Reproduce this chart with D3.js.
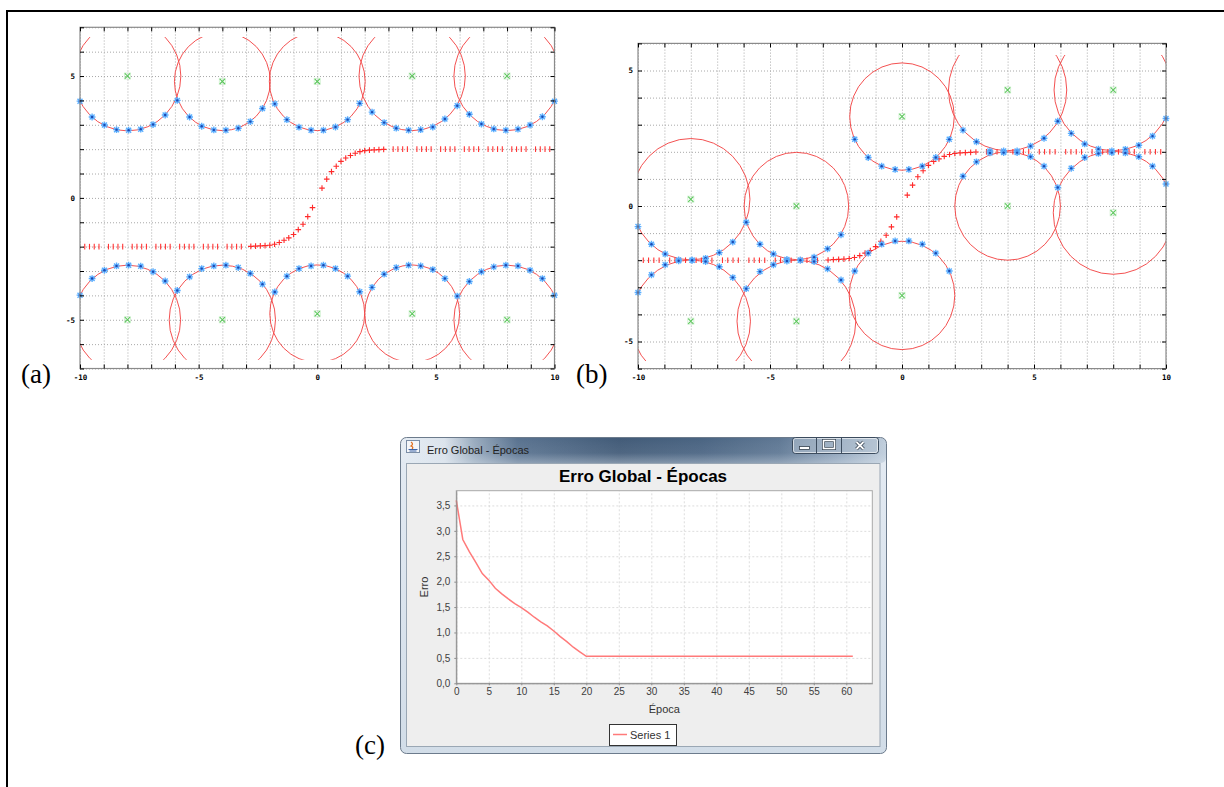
<!DOCTYPE html>
<html>
<head>
<meta charset="utf-8">
<title>RBF - Erro Global</title>
<script src="https://cdnjs.cloudflare.com/ajax/libs/d3/7.8.5/d3.min.js"></script>
<style>
  body { margin: 0; background: #ffffff; }
  #figure svg { display: block; }
</style>
</head>
<body>
<div id="figure"></div>
<script>
// ---------------- data ----------------

// x positions of the blue samples, shared by (a) and (b)
var blueX = [-10, -9.49, -8.97, -8.46, -7.95, -7.44, -6.92, -6.41, -5.9, -5.38,
             -4.87, -4.36, -3.85, -3.33, -2.82, -2.31, -1.79, -1.28, -0.77, -0.26,
             0.26, 0.77, 1.28, 1.79, 2.31, 2.82, 3.33, 3.85, 4.36, 4.87,
             5.38, 5.9, 6.41, 6.92, 7.44, 7.95, 8.46, 8.97, 9.49, 10];

// (a) blue samples, upper and lower band
var aBlueTop = [3.97, 3.32, 2.99, 2.80, 2.78, 2.82, 3.01, 3.40, 4.0, 3.32,
                2.94, 2.79, 2.78, 2.86, 3.13, 3.67, 3.86, 3.21, 2.90, 2.78,
                2.78, 2.91, 3.21, 3.88, 3.52, 3.09, 2.86, 2.78, 2.80, 2.91,
                3.24, 3.78, 3.43, 3.03, 2.83, 2.78, 2.82, 2.99, 3.33, 3.97];
var aBlueBottom = [-3.99, -3.31, -2.97, -2.79, -2.76, -2.80, -3.03, -3.41, -3.80, -3.24,
                   -2.90, -2.79, -2.76, -2.86, -3.10, -3.54, -3.86, -3.21, -2.90, -2.79,
                   -2.76, -2.90, -3.21, -3.85, -3.67, -3.13, -2.86, -2.76, -2.79, -2.94,
                   -3.31, -4.03, -3.43, -3.03, -2.83, -2.76, -2.79, -2.97, -3.31, -3.99];
// (a) centres (green x) and radii of the red circles
var aCenterX = [-8, -4, 0, 4, 8, -8, -4, 0, 4, 8];
var aCenterY = [5, 4.78, 4.78, 5, 5, -5, -5, -4.75, -4.75, -5];
var aRadius  = [2.25, 2.02, 2.02, 2.24, 2.24, 2.24, 2.24, 2.0, 2.0, 2.24];

// (b) blue samples
var bBlueUpper = [-0.76, -1.41, -1.77, -1.99, -2.0, -1.93, -1.72, -1.33, -0.6, -1.41,
                  -1.77, -1.97, -2.0, -1.89, -1.58, -1.06, 2.46, 1.79, 1.47, 1.35,
                  1.35, 1.47, 1.79, 2.46, 2.8, 2.37, 2.03, 2.03, 2.03, 2.21,
                  2.5, 3.13, 2.68, 2.29, 2.1, 2.03, 2.09, 2.24, 2.58, 3.23];
var bBlueLower = [-3.19, -2.54, -2.17, -2.02, -2.0, -2.05, -2.24, -2.64, -3.05, -2.42,
                  -2.17, -2.03, -2.0, -2.05, -2.32, -2.73, -2.4, -1.74, -1.41, -1.29,
                  -1.29, -1.41, -1.74, -2.4, 1.1, 1.63, 1.96, 1.97, 1.97, 1.82,
                  1.47, 0.68, 1.39, 1.79, 1.94, 1.97, 1.96, 1.82, 1.47, 0.81];
var bCenterX = [-8, -8, -4, -4, 0, 0, 4, 4, 8, 8];
var bCenterY = [0.25, -4.25, 0, -4.25, 3.3, -3.3, 4.28, 0, 4.28, -0.25];
var bRadius  = [2.24, 2.26, 1.98, 2.25, 1.98, 2.0, 2.24, 2.0, 2.24, 2.27];

// red "+" output, steep part (same in (a) and (b), nothing plotted at x = 0)
var sigX = [-2.8, -2.6, -2.4, -2.2, -2, -1.8, -1.6, -1.4, -1.2, -1, -0.8, -0.6, -0.4, -0.2,
            0.2, 0.4, 0.6, 0.8, 1, 1.2, 1.4, 1.6, 1.8, 2, 2.2, 2.4, 2.6, 2.8];
var sigY = [-1.99, -1.98, -1.97, -1.96, -1.94, -1.9, -1.83, -1.74, -1.64, -1.5, -1.3, -1.08, -0.77, -0.4,
            0.4, 0.77, 1.08, 1.3, 1.5, 1.64, 1.74, 1.83, 1.9, 1.94, 1.96, 1.97, 1.98, 1.99];
// red output, flat parts
var flatLeftX = [-9.8, -9.6, -9.4, -9.2, -8.8, -8.6, -8.4, -8.2, -7.8, -7.6, -7.4, -7.2, -6.8, -6.6,
                 -6.4, -6.2, -5.8, -5.6, -5.4, -5.2, -4.8, -4.6, -4.4, -4.2, -3.8, -3.6, -3.4, -3.2];
var flatRightX = [3.2, 3.4, 3.6, 3.8, 4.2, 4.4, 4.6, 4.8, 5.2, 5.4, 5.6, 5.8, 6.2, 6.4,
                  6.6, 6.8, 7.2, 7.4, 7.6, 7.8, 8.2, 8.4, 8.6, 8.8, 9.2, 9.4, 9.6, 9.8];
var flatLevels = [-2, 2];

var xTickLabels = [-10, -5, 0, 5, 10];
var yTickLabels = [-5, 0, 5];

// (c) Erro Global - Epocas
var epocas = [0, 1, 2, 3, 4, 5, 6, 7, 8, 9, 10, 11, 12, 13, 14, 15, 16, 17, 18, 19, 20,
              21, 22, 23, 24, 25, 26, 27, 28, 29, 30, 31, 32, 33, 34, 35, 36, 37, 38, 39, 40,
              41, 42, 43, 44, 45, 46, 47, 48, 49, 50, 51, 52, 53, 54, 55, 56, 57, 58, 59, 60, 61];
var erro = [3.60, 2.83, 2.59, 2.38, 2.16, 2.03, 1.87, 1.76, 1.66, 1.57, 1.49, 1.40, 1.30, 1.21,
            1.13, 1.03, 0.92, 0.82, 0.71, 0.62, 0.53,
            0.53, 0.53, 0.53, 0.53, 0.53, 0.53, 0.53, 0.53, 0.53, 0.53, 0.53, 0.53, 0.53, 0.53,
            0.53, 0.53, 0.53, 0.53, 0.53, 0.53, 0.53, 0.53, 0.53, 0.53, 0.53, 0.53, 0.53, 0.53,
            0.53, 0.53, 0.53, 0.53, 0.53, 0.53, 0.53, 0.53, 0.53, 0.53, 0.53, 0.53, 0.53];

// ---------------- drawing ----------------

var svg = d3.select("#figure").append("svg")
    .attr("width", 1224)
    .attr("height", 787);
var defs = svg.append("defs");

// page frame (only top and left edge are inside the picture)
svg.append("path")
    .attr("d", "M7,787 V11 H1224")
    .attr("fill", "none")
    .attr("stroke", "#000")
    .attr("stroke-width", 2);

function plusPath(px, py, s) {
    return "M" + (px - s) + "," + py + "H" + (px + s) + "M" + px + "," + (py - s) + "V" + (py + s);
}
function crossPath(px, py, s) {
    return "M" + (px - s) + "," + (py - s) + "L" + (px + s) + "," + (py + s) +
           "M" + (px - s) + "," + (py + s) + "L" + (px + s) + "," + (py - s);
}

/**
 * Draws one gnuplot style panel: dotted grid, red circles round the centres,
 * red network output, blue samples and green centres.
 */
function drawPanel(cfg) {
    var x = d3.scaleLinear().domain([-10, 10]).range([cfg.left, cfg.right]);
    var y = d3.scaleLinear().domain(cfg.yDomain).range([cfg.bottom, cfg.top]);
    var w = cfg.right - cfg.left,
        h = cfg.bottom - cfg.top;
    var g = svg.append("g").attr("class", "panel-" + cfg.name);

    g.append("rect")
        .attr("x", cfg.left).attr("y", cfg.top)
        .attr("width", w).attr("height", h)
        .attr("fill", "#fff");

    // dotted grid at every unit
    var gx = g.append("g")
        .attr("transform", "translate(0," + cfg.bottom + ")")
        .call(d3.axisBottom(x).ticks(20).tickSize(-h).tickFormat(""));
    var gy = g.append("g")
        .attr("transform", "translate(" + cfg.left + ",0)")
        .call(d3.axisLeft(y).ticks(cfg.yDomain[1] * 2).tickSize(-w).tickFormat(""));
    [gx, gy].forEach(function (s) {
        s.select(".domain").remove();
        s.selectAll("line")
            .attr("stroke", "#a8a8a8")
            .attr("stroke-width", 1)
            .attr("stroke-dasharray", "1,2");
    });

    // circles, clipped like in the original
    var clipId = "clip-" + cfg.name;
    defs.append("clipPath").attr("id", clipId).append("rect")
        .attr("x", x(-10)).attr("width", x(10) - x(-10))
        .attr("y", y(cfg.clipY[1])).attr("height", y(cfg.clipY[0]) - y(cfg.clipY[1]));
    g.append("g")
        .attr("clip-path", "url(#" + clipId + ")")
        .selectAll("ellipse")
        .data(d3.range(cfg.cx.length))
        .join("ellipse")
        .attr("cx", i => x(cfg.cx[i]))
        .attr("cy", i => y(cfg.cy[i]))
        .attr("rx", i => x(cfg.r[i]) - x(0))
        .attr("ry", i => y(0) - y(cfg.r[i]))
        .attr("fill", "none")
        .attr("stroke", "#f24848")
        .attr("stroke-width", 0.95);

    // flat output: red ticks with a faint bar
    var flat = flatLeftX.map(v => [v, flatLevels[0]]).concat(flatRightX.map(v => [v, flatLevels[1]]));
    g.append("g").selectAll("path.flatbar")
        .data(flat)
        .join("path")
        .attr("class", "flatbar")
        .attr("d", d => "M" + (x(d[0]) - 2.2) + "," + y(d[1]) + "H" + (x(d[0]) + 2.2))
        .attr("stroke", "#ff7070")
        .attr("stroke-opacity", 0.22)
        .attr("stroke-width", 1);
    g.append("g").selectAll("path.flat")
        .data(flat)
        .join("path")
        .attr("class", "flat")
        .attr("d", d => "M" + x(d[0]) + "," + (y(d[1]) - 2.8) + "V" + (y(d[1]) + 2.8))
        .attr("stroke", "#ff3434")
        .attr("stroke-width", 1.1);

    // steep part of the output
    g.append("g").selectAll("path.sig")
        .data(sigX)
        .join("path")
        .attr("class", "sig")
        .attr("d", (d, i) => plusPath(x(d), y(sigY[i]), 2.8))
        .attr("stroke", "#ff2a2a")
        .attr("stroke-width", 1.1);

    // blue samples (asterisks)
    var blue = blueX.map((v, i) => [v, cfg.blueA[i]]).concat(blueX.map((v, i) => [v, cfg.blueB[i]]));
    var bg = g.append("g").selectAll("g")
        .data(blue)
        .join("g")
        .attr("transform", d => "translate(" + x(d[0]) + "," + y(d[1]) + ")");
    bg.append("path")
        .attr("d", plusPath(0, 0, 3.4) + crossPath(0, 0, 2.5))
        .attr("stroke", "#5aaeff")
        .attr("stroke-width", 1.4);
    bg.append("circle")
        .attr("r", 1.2)
        .attr("fill", "#1d49b0");

    // green centres
    var cg0 = g.append("g").selectAll("g")
        .data(cfg.cx)
        .join("g")
        .attr("transform", (d, i) => "translate(" + x(d) + "," + y(cfg.cy[i]) + ")");
    cg0.append("rect")
        .attr("x", -3).attr("y", -3).attr("width", 6).attr("height", 6)
        .attr("fill", "none").attr("stroke", "#9ee09e").attr("stroke-opacity", 0.45);
    cg0.append("path")
        .attr("d", crossPath(0, 0, 2.6))
        .attr("stroke", "#5cc85c")
        .attr("stroke-width", 1.1);

    // frame with inward ticks on all four sides
    g.append("rect")
        .attr("x", cfg.left).attr("y", cfg.top)
        .attr("width", w).attr("height", h)
        .attr("fill", "none")
        .attr("stroke", "#8a8a8a")
        .attr("stroke-width", 1.2);

    var fmtX = d => xTickLabels.indexOf(d) >= 0 ? d : "";
    var fmtY = d => yTickLabels.indexOf(d) >= 0 ? d : "";
    var axes = [
        g.append("g").attr("transform", "translate(0," + cfg.bottom + ")")
            .call(d3.axisBottom(x).ticks(20).tickSizeInner(-4).tickSizeOuter(0).tickPadding(6).tickFormat(fmtX)),
        g.append("g").attr("transform", "translate(0," + cfg.top + ")")
            .call(d3.axisTop(x).ticks(20).tickSizeInner(-4).tickSizeOuter(0).tickFormat("")),
        g.append("g").attr("transform", "translate(" + cfg.left + ",0)")
            .call(d3.axisLeft(y).ticks(cfg.yDomain[1] * 2).tickSizeInner(-4).tickSizeOuter(0).tickPadding(5).tickFormat(fmtY)),
        g.append("g").attr("transform", "translate(" + cfg.right + ",0)")
            .call(d3.axisRight(y).ticks(cfg.yDomain[1] * 2).tickSizeInner(-4).tickSizeOuter(0).tickFormat(""))
    ];
    axes.forEach(function (s) {
        s.select(".domain").remove();
        s.selectAll("line").attr("stroke", "#000").attr("stroke-width", 1);
        s.attr("font-family", "'DejaVu Sans Mono', monospace")
         .attr("font-size", 7.5)
         .attr("font-weight", "bold");
        s.selectAll("text").attr("fill", "#000");
    });

    svg.append("text")
        .attr("x", cfg.labelX)
        .attr("y", 383)
        .attr("font-family", "'Liberation Serif', serif")
        .attr("font-size", 27)
        .text(cfg.label);
}

drawPanel({
    name: "a", label: "(a)", labelX: 21,
    left: 80, right: 554.5, top: 27.3, bottom: 368.5,
    yDomain: [-7, 7], clipY: [-6.64, 6.6],
    cx: aCenterX, cy: aCenterY, r: aRadius,
    blueA: aBlueTop, blueB: aBlueBottom
});

drawPanel({
    name: "b", label: "(b)", labelX: 576,
    left: 638, right: 1166, top: 43.4, bottom: 368.6,
    yDomain: [-6, 6], clipY: [-5.72, 5.57],
    cx: bCenterX, cy: bCenterY, r: bRadius,
    blueA: bBlueUpper, blueB: bBlueLower
});

// ---------------- (c) the Java window with the error chart ----------------

function linGrad(id, x2, y2, stops) {
    var lg = defs.append("linearGradient").attr("id", id)
        .attr("x1", 0).attr("y1", 0).attr("x2", x2).attr("y2", y2);
    stops.forEach(s => lg.append("stop").attr("offset", s[0]).attr("stop-color", s[1]).attr("stop-opacity", s[2]));
}
linGrad("frameGrad", 0, 1, [[0, "#e4ebf3", 1], [1, "#d2dde8", 1]]);
linGrad("glassGrad", 1, 0, [[0, "#e6edf4", 1], [0.09, "#dbe3ec", 1], [0.15, "#9aacbf", 1],
                            [0.24, "#5a7390", 1], [0.45, "#425b78", 1], [0.62, "#4a6482", 1],
                            [0.78, "#5f7894", 1], [0.9, "#8ea3ba", 1], [1, "#c0cedc", 1]]);
linGrad("glassShade", 0, 1, [[0, "#ffffff", 0], [0.6, "#dde5ee", 0.08], [1, "#dfe7ef", 0.4]]);

var win = svg.append("g").attr("class", "window");
win.append("rect")
    .attr("x", 400.5).attr("y", 437.5).attr("width", 486).attr("height", 316).attr("rx", 6)
    .attr("fill", "url(#frameGrad)");
win.append("rect")
    .attr("x", 401).attr("y", 438).attr("width", 485).attr("height", 25).attr("rx", 5)
    .attr("fill", "url(#glassGrad)");
win.append("rect")
    .attr("x", 401).attr("y", 438).attr("width", 485).attr("height", 25)
    .attr("fill", "url(#glassShade)");
win.append("rect")
    .attr("x", 400.5).attr("y", 437.5).attr("width", 486).attr("height", 316).attr("rx", 6)
    .attr("fill", "none").attr("stroke", "#6c7b8c");

// java icon
win.append("rect").attr("x", 406.5).attr("y", 440.5).attr("width", 13).attr("height", 12)
    .attr("fill", "#f4f6f9").attr("stroke", "#7b8ea6");
win.append("path").attr("d", "M411,442 q3,2 0,4 q3,1 1,3").attr("fill", "none")
    .attr("stroke", "#e07020").attr("stroke-width", 1.3);
win.append("path").attr("d", "M408.5,449.5 h9 M409.5,451 h7").attr("stroke", "#3c64a8").attr("stroke-width", 1);

win.append("text")
    .attr("x", 427).attr("y", 454)
    .attr("font-family", "'Liberation Sans', Arial, sans-serif")
    .attr("font-size", 11)
    .attr("fill", "#222")
    .text("Erro Global - Épocas");

// caption buttons
var btn = win.append("g");
btn.append("rect").attr("x", 792.5).attr("y", 437.5).attr("width", 86).attr("height", 16).attr("rx", 3)
    .attr("fill", "#b3c1d0").attr("fill-opacity", 0.55).attr("stroke", "#3c4c5e");
btn.append("rect").attr("x", 793.5).attr("y", 438.5).attr("width", 84).attr("height", 14).attr("rx", 2)
    .attr("fill", "none").attr("stroke", "#ffffff").attr("stroke-opacity", 0.6);
btn.append("path").attr("d", "M816.5,438 V453 M841.5,438 V453").attr("stroke", "#3c4c5e");
btn.append("rect").attr("x", 799.5).attr("y", 446.5).attr("width", 10).attr("height", 3)
    .attr("fill", "#fff").attr("stroke", "#33404e").attr("stroke-width", 0.8);
btn.append("rect").attr("x", 823.5).attr("y", 440.5).attr("width", 11).attr("height", 8)
    .attr("fill", "none").attr("stroke", "#33404e").attr("stroke-width", 3);
btn.append("rect").attr("x", 823.5).attr("y", 440.5).attr("width", 11).attr("height", 8)
    .attr("fill", "none").attr("stroke", "#fff").attr("stroke-width", 1.6);
btn.append("path").attr("d", crossPath(860, 445.5, 3.5)).attr("stroke", "#33404e").attr("stroke-width", 3.4);
btn.append("path").attr("d", crossPath(860, 445.5, 3.5)).attr("stroke", "#fff").attr("stroke-width", 1.8);

// content pane
win.append("rect")
    .attr("x", 406.5).attr("y", 463.5).attr("width", 473.5).attr("height", 283)
    .attr("fill", "#eeeeee").attr("stroke", "#9aa7b4");

var pl = 456.3, pr = 872.3, pt = 490.7, pb = 683.3;
var cx = d3.scaleLinear().domain([0, 64]).range([pl, pr]);
var cy = d3.scaleLinear().domain([0, 3.79]).range([pb, pt]);
var ptBR = d3.formatLocale({decimal: ",", thousands: ".", grouping: [3], currency: ["R$", ""]});
var fmtErro = ptBR.format(".1f");

var cg = svg.append("g").attr("class", "erro-chart");
cg.append("text")
    .attr("x", 643).attr("y", 481.5)
    .attr("text-anchor", "middle")
    .attr("font-family", "'Liberation Sans', Arial, sans-serif")
    .attr("font-size", 17)
    .attr("font-weight", "bold")
    .attr("fill", "#000")
    .text("Erro Global - Épocas");

cg.append("rect")
    .attr("x", pl).attr("y", pt).attr("width", pr - pl).attr("height", pb - pt)
    .attr("fill", "#fff");

var gridX = cg.append("g").attr("transform", "translate(0," + pb + ")")
    .call(d3.axisBottom(cx).ticks(13).tickSize(-(pb - pt)).tickFormat(""));
var gridY = cg.append("g").attr("transform", "translate(" + pl + ",0)")
    .call(d3.axisLeft(cy).ticks(8).tickSize(-(pr - pl)).tickFormat(""));
[gridX, gridY].forEach(function (s) {
    s.select(".domain").remove();
    s.selectAll("line").attr("stroke", "#d4d4d4").attr("stroke-width", 0.8).attr("stroke-dasharray", "2,2");
});

cg.append("rect")
    .attr("x", pl).attr("y", pt).attr("width", pr - pl).attr("height", pb - pt)
    .attr("fill", "none").attr("stroke", "#a8a8a8");

var line = d3.line()
    .x((d, i) => cx(epocas[i]))
    .y(d => cy(d));
cg.append("path")
    .datum(erro)
    .attr("d", line)
    .attr("fill", "none")
    .attr("stroke", "#ff7a7a")
    .attr("stroke-width", 1.5);

var axX = cg.append("g").attr("transform", "translate(0," + pb + ")")
    .call(d3.axisBottom(cx).ticks(13).tickSizeInner(2).tickSizeOuter(0).tickPadding(3));
var axY = cg.append("g").attr("transform", "translate(" + pl + ",0)")
    .call(d3.axisLeft(cy).ticks(8).tickSizeInner(2).tickSizeOuter(0).tickPadding(4).tickFormat(fmtErro));
[axX, axY].forEach(function (s) {
    s.select(".domain").attr("stroke", "#8c8c8c");
    s.selectAll("line").attr("stroke", "#8c8c8c");
    s.attr("font-family", "'Liberation Sans', Arial, sans-serif").attr("font-size", 10);
    s.selectAll("text").attr("fill", "#404040");
});

cg.append("text")
    .attr("x", (pl + pr) / 2).attr("y", 713)
    .attr("text-anchor", "middle")
    .attr("font-family", "'Liberation Sans', Arial, sans-serif")
    .attr("font-size", 11)
    .attr("fill", "#333")
    .text("Época");
cg.append("text")
    .attr("transform", "translate(428," + ((pt + pb) / 2) + ") rotate(-90)")
    .attr("text-anchor", "middle")
    .attr("font-family", "'Liberation Sans', Arial, sans-serif")
    .attr("font-size", 11)
    .attr("fill", "#333")
    .text("Erro");

// legend
cg.append("rect")
    .attr("x", 609.5).attr("y", 724.5).attr("width", 67).attr("height", 21)
    .attr("fill", "#fff").attr("stroke", "#333");
cg.append("line")
    .attr("x1", 613).attr("x2", 627).attr("y1", 734.5).attr("y2", 734.5)
    .attr("stroke", "#ff7a7a").attr("stroke-width", 1.5);
cg.append("text")
    .attr("x", 630).attr("y", 738.5)
    .attr("font-family", "'Liberation Sans', Arial, sans-serif")
    .attr("font-size", 11)
    .attr("fill", "#333")
    .text("Series 1");

svg.append("text")
    .attr("x", 355).attr("y", 754)
    .attr("font-family", "'Liberation Serif', serif")
    .attr("font-size", 27)
    .text("(c)");
</script>
</body>
</html>
